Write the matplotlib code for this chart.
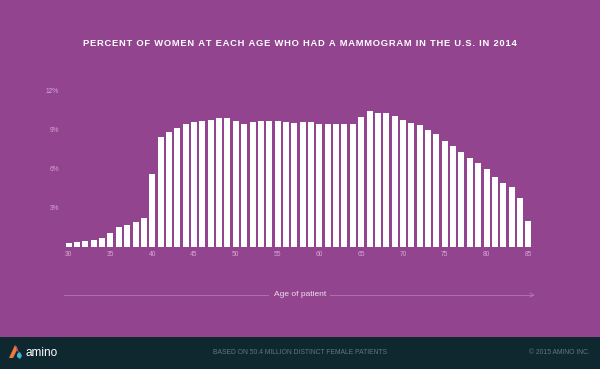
import matplotlib.pyplot as plt
from matplotlib.patches import Polygon, Rectangle
from matplotlib.lines import Line2D

# ages 30..85 and share of women with a mammogram (%)
ages = list(range(30, 86))
pct = [0.26, 0.38, 0.46, 0.54, 0.67, 1.05, 1.54, 1.67, 1.87, 2.18,
       5.62, 8.44, 8.85, 9.15, 9.44, 9.56, 9.67, 9.72, 9.90, 9.87,
       9.64, 9.44, 9.56, 9.64, 9.67, 9.67, 9.62, 9.51, 9.56, 9.62,
       9.44, 9.41, 9.46, 9.46, 9.46, 9.95, 10.41, 10.31, 10.31, 10.03,
       9.72, 9.51, 9.33, 9.00, 8.64, 8.10, 7.72, 7.28, 6.82, 6.46,
       5.95, 5.33, 4.87, 4.56, 3.74, 1.95]
y_ticks = [3, 6, 9, 12]
y_labels = ["3%", "6%", "9%", "12%"]
x_ticks = [30, 35, 40, 45, 50, 55, 60, 65, 70, 75, 80, 85]

title = "PERCENT OF WOMEN AT EACH AGE WHO HAD A MAMMOGRAM IN THE U.S. IN 2014"
footer_mid = "BASED ON 50.4 MILLION DISTINCT FEMALE PATIENTS"
footer_right = "\u00a9 2015 AMINO INC."

purple = "#92458e"
dark = "#0f2830"
pink = "#d7a6d4"


def spaced(s):
    # fake letter spacing with hair spaces
    return "\u200a".join(s)


plt.rcParams['font.family'] = ['Liberation Sans', 'DejaVu Sans']

fig = plt.figure(figsize=(6, 3.69), dpi=100)
fig.patch.set_facecolor(purple)

ax = fig.add_axes([0.1075, 0.3314, 0.78, 0.4228])
ax.set_facecolor(purple)
ax.bar(ages, pct, width=0.72, color="white", linewidth=0)
ax.set_xlim(29.5, 85.5)
ax.set_ylim(0, 12)
ax.set_yticks(y_ticks)
ax.set_yticklabels(y_labels)
ax.set_xticks(x_ticks)
ax.tick_params(length=0, labelsize=4.8, labelcolor=pink, pad=3)
ax.tick_params(axis="y", pad=4)
for s in ax.spines.values():
    s.set_visible(False)

fig.text(0.5, 1 - 43 / 369, spaced(title), ha="center", va="center", color="white",
         fontsize=6.75, fontweight="bold")

# axis arrow and label
y_arrow = 1 - 295 / 369
fig.add_artist(Line2D([64 / 600, 268 / 600], [y_arrow, y_arrow], color="#b777b3", lw=0.6))
fig.add_artist(Line2D([330 / 600, 533 / 600], [y_arrow, y_arrow], color="#b777b3", lw=0.6))
fig.add_artist(Line2D([530 / 600, 534 / 600, 530 / 600],
                      [y_arrow + 2 / 369, y_arrow, y_arrow - 2 / 369], color="#b777b3", lw=0.6))
fig.text(0.5, y_arrow, "Age of patient", ha="center", va="center", color="#f0dcef", fontsize=6)

# footer band
fig.add_artist(Rectangle((0, 0), 1, 32 / 369, transform=fig.transFigure,
                         facecolor=dark, edgecolor="none"))
yf = 16 / 369
fig.text(0.5, yf, footer_mid, ha="center", va="center", color="#5e7880", fontsize=4.9)
fig.text(590 / 600, yf, footer_right, ha="right", va="center", color="#5e7880", fontsize=4.9)
fig.text(25 / 600, yf, "amino", ha="left", va="center", color="white", fontsize=8.5)

# logo
fig.add_artist(Polygon([[9 / 600, 11 / 369], [15 / 600, 24 / 369], [17 / 600, 19 / 369],
                        [13 / 600, 11 / 369]], closed=True, transform=fig.transFigure,
                       facecolor="#ee7a3a", edgecolor="none"))
fig.add_artist(Polygon([[15 / 600, 24 / 369], [17 / 600, 19 / 369], [20 / 600, 13 / 369],
                        [17 / 600, 22 / 369]], closed=True, transform=fig.transFigure,
                       facecolor="#e0527a", edgecolor="none"))
fig.add_artist(Polygon([[17 / 600, 15 / 369], [20 / 600, 17 / 369], [22 / 600, 13 / 369],
                        [20 / 600, 10 / 369], [17 / 600, 12 / 369]], closed=True,
                       transform=fig.transFigure, facecolor="#3cb6d8", edgecolor="none"))

fig.savefig("out.png", dpi=100, facecolor=fig.get_facecolor())
